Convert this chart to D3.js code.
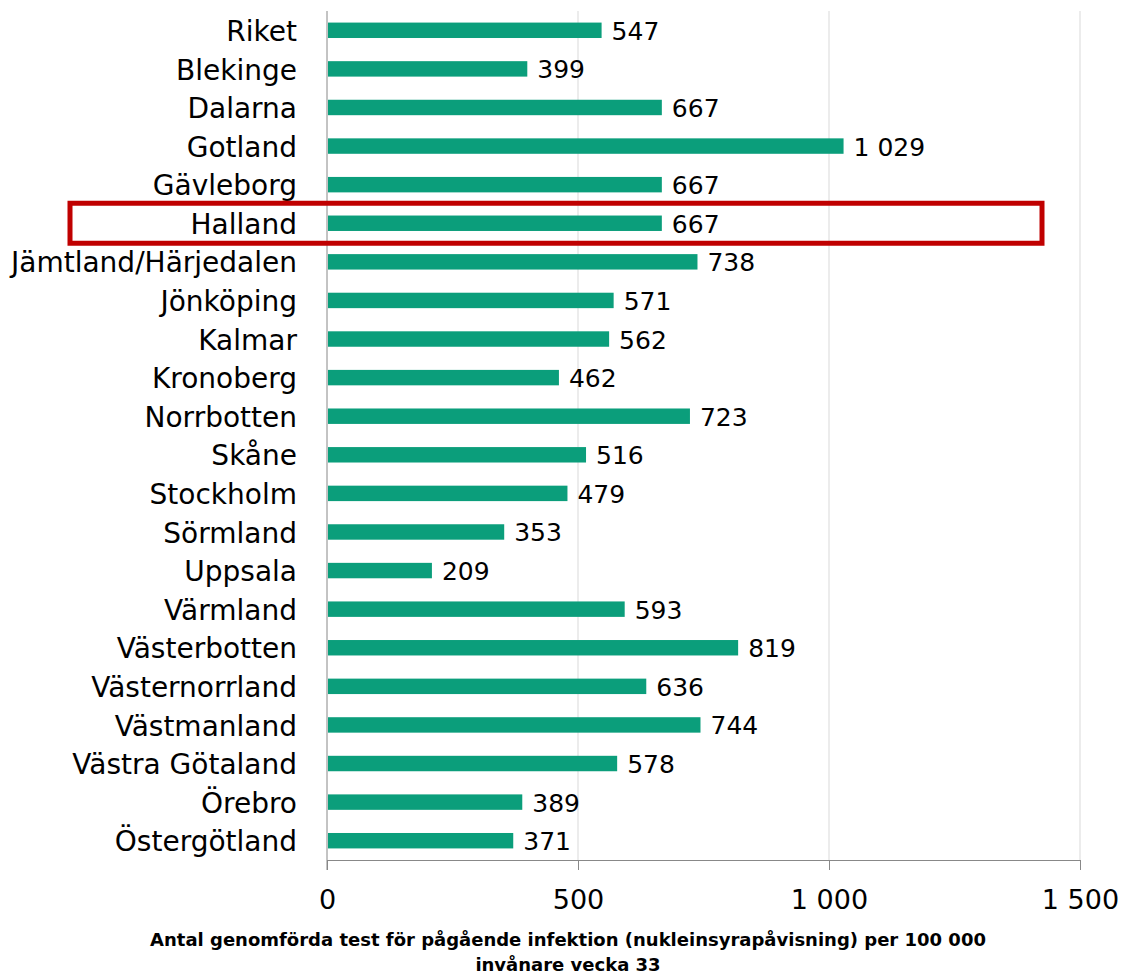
<!DOCTYPE html>
<html>
<head>
<meta charset="utf-8">
<script src="https://cdn.jsdelivr.net/npm/d3@7"></script>
<style>
  body { margin: 0; background: #fff; }
  text { font-family: "DejaVu Sans", sans-serif; fill: #000; }
</style>
</head>
<body>
<script>
// chart data
const regions = ['Riket', 'Blekinge', 'Dalarna', 'Gotland', 'Gävleborg', 'Halland',
  'Jämtland/Härjedalen', 'Jönköping', 'Kalmar', 'Kronoberg', 'Norrbotten', 'Skåne',
  'Stockholm', 'Sörmland', 'Uppsala', 'Värmland', 'Västerbotten', 'Västernorrland',
  'Västmanland', 'Västra Götaland', 'Örebro', 'Östergötland']
const tests = [547, 399, 667, 1029, 667, 667, 738, 571, 562, 462, 723, 516,
  479, 353, 209, 593, 819, 636, 744, 578, 389, 371]
const xTicks = [0, 500, 1000, 1500]
const highlight = 'Halland'
const titleLines = ['Antal genomförda test för pågående infektion (nukleinsyrapåvisning) per 100 000',
  'invånare vecka 33']

const data = regions.map((r, i) => ({ region: r, value: tests[i] }))

const m = { width: 1124, height: 977, left: 327, right: 1080, top: 11, bottom: 860 }

const svg = d3.select('body').append('svg')
  .attr('width', m.width)
  .attr('height', m.height)

// swedish style numbers: 1 029
const fmt = d3.formatLocale({ decimal: ',', thousands: '\u00a0', grouping: [3], currency: ['', ' kr'] }).format(',d')

const x = d3.scaleLinear().domain([0, 1500]).range([m.left, m.right])
const y = d3.scaleBand().domain(regions).range([m.top, m.bottom]).paddingInner(0.6).paddingOuter(0.3)

// gridlines
svg.append('g')
  .selectAll('line')
  .data(xTicks.slice(1))
  .join('line')
  .attr('x1', d => x(d)).attr('x2', d => x(d))
  .attr('y1', m.top).attr('y2', m.bottom)
  .attr('stroke', '#d9d9d9')

// x axis
const xAxis = d3.axisBottom(x).tickValues(xTicks).tickSize(10).tickPadding(20).tickFormat(fmt)
const gx = svg.append('g')
  .attr('transform', `translate(0,${m.bottom})`)
  .call(xAxis)
gx.select('.domain').attr('stroke', '#888')
gx.selectAll('.tick line').attr('stroke', '#888')
gx.selectAll('.tick text').attr('font-size', 27).attr('font-family', '"DejaVu Sans", sans-serif')

// y axis line
svg.append('line')
  .attr('x1', m.left).attr('x2', m.left)
  .attr('y1', m.top).attr('y2', m.bottom + 10)
  .attr('stroke', '#888')

// bars
svg.append('g')
  .selectAll('rect')
  .data(data)
  .join('rect')
  .attr('x', x(0) + 1)
  .attr('y', d => y(d.region))
  .attr('width', d => x(d.value) - x(0) - 1)
  .attr('height', y.bandwidth())
  .attr('fill', '#0b9e7b')

// value labels
svg.append('g')
  .selectAll('text')
  .data(data)
  .join('text')
  .attr('x', d => x(d.value) + 10)
  .attr('y', d => y(d.region) + y.bandwidth() / 2)
  .attr('dy', '0.38em')
  .attr('font-size', 25)
  .text(d => fmt(d.value))

// category labels
svg.append('g')
  .selectAll('text')
  .data(data)
  .join('text')
  .attr('x', 297)
  .attr('y', d => y(d.region) + y.bandwidth() / 2)
  .attr('dy', '0.38em')
  .attr('text-anchor', 'end')
  .attr('font-size', 28)
  .text(d => d.region)

// red box around highlighted region
const hy = y(highlight) + y.bandwidth() / 2
svg.append('rect')
  .attr('x', 70)
  .attr('y', hy - 20)
  .attr('width', 972)
  .attr('height', 40)
  .attr('fill', 'none')
  .attr('stroke', '#c00000')
  .attr('stroke-width', 5)

// axis title
svg.append('text')
  .attr('text-anchor', 'middle')
  .attr('font-size', 18)
  .attr('font-weight', 'bold')
  .selectAll('tspan')
  .data(titleLines)
  .join('tspan')
  .attr('x', 568)
  .attr('y', (d, i) => 946 + i * 25)
  .text(d => d)
</script>
</body>
</html>
